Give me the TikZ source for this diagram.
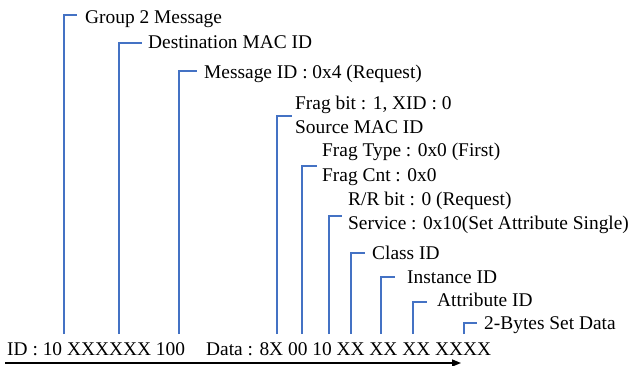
\documentclass[tikz,border=0pt]{standalone}
\usepackage{fontspec}
\setmainfont{Liberation Serif}
\newfontfamily\lserif{Liberation Serif}
\usetikzlibrary{arrows.meta}
\definecolor{brk}{RGB}{68,114,196}
\tikzset{
  lbl/.style={anchor=base west,inner sep=0pt,font=\lserif\fontsize{19.4}{22}\selectfont},
  brline/.style={draw=brk,line width=1.6pt},
  flow/.style={draw=black,line width=1.5pt,-{Triangle[length=9pt,width=7pt]}}
}
\begin{document}
\begin{tikzpicture}[x=1pt,y=-1pt]
\useasboundingbox (0,0) rectangle (631,365);
% labels
\node[lbl] (l1) at (85,23) {Group 2 Message};
\node[lbl] (l2) at (148,48) {Destination MAC ID};
\node[lbl] (l3) at (204,78) {Message ID : 0x4 (Request)};
\node[lbl] (l4a) at (295,109) {Frag bit : 1, XID : 0};
\node[lbl] (l4) at (295,133) {Source MAC ID};
\node[lbl] (l5a) at (322,156) {Frag Type : 0x0 (First)};
\node[lbl] (l5) at (322,181) {Frag Cnt : 0x0};
\node[lbl] (l6a) at (348,205) {R/R bit : 0 (Request)};
\node[lbl] (l6) at (348,229) {Service : 0x10(Set Attribute Single)};
\node[lbl] (l7) at (372,259) {Class ID};
\node[lbl] (l8) at (407,283) {Instance ID};
\node[lbl] (l9) at (437,306) {Attribute ID};
\node[lbl] (l10) at (484,329) {2-Bytes Set Data};
\node[lbl] (idt) at (7,355) {ID : 10 XXXXXX 100};
\node[lbl] (dat) at (206,355) {Data : 8X 00 10 XX XX XX XXXX};
% bracket coordinates
\foreach \n/\vx/\ty/\tx in {1/64/15/77, 2/119/43/142, 3/179/71/197, 4/277/116/292,
  5/302/166/317, 6/329/216/342, 7/351/253/365, 8/381/277/395, 9/413/302/427, 10/464/323/477}{
  \coordinate (b\n) at (\vx,334);
  \coordinate (t\n) at (\tx,\ty);
}
\foreach \n in {1,...,10}{
  \draw[brline] (b\n) |- (t\n);
}
% arrow
\coordinate (as) at (5,363);
\coordinate (ae) at (461,363);
\draw[flow] (as) -- (ae);
\end{tikzpicture}
\end{document}
